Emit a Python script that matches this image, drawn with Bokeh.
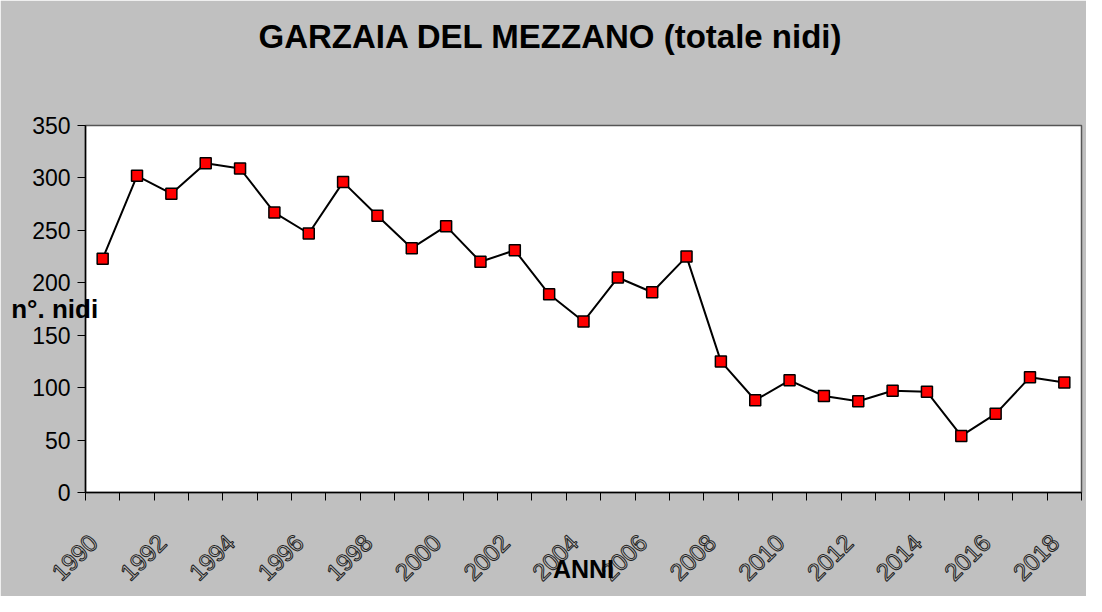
from bokeh.plotting import figure
from bokeh.models import Range1d, FixedTicker, Title, LinearAxis
from bokeh.embed import file_html
from bokeh.resources import INLINE

years = list(range(1990, 2019))
nests = [223, 302, 285, 314, 309, 267, 247, 296, 264, 233, 254, 220, 231, 189, 163,
         205, 191, 225, 125, 88, 107, 92, 87, 97, 96, 54, 75, 110, 105]
label_years = [y for y in years if y % 2 == 0]
y_ticks = [0, 50, 100, 150, 200, 250, 300, 350]
title_text = "GARZAIA DEL MEZZANO (totale nidi)"
y_title = "n°. nidi"
x_title = "ANNI"

FONT = "Liberation Sans"
BG = "#c0c0c0"

p = figure(width=1086, height=596, output_backend="svg", toolbar_location=None,
           x_range=Range1d(years[0] - 0.5, years[-1] + 0.5), y_range=Range1d(0, 350),
           min_border_left=85, min_border_right=5, min_border_top=125, min_border_bottom=104)
p.border_fill_color = BG
p.background_fill_color = "white"
p.outline_line_color = "#555555"
p.outline_line_width = 1.5
p.xgrid.grid_line_color = None
p.ygrid.grid_line_color = None

# invisible spacer axis above the frame, then the title beyond it
spacer = LinearAxis(ticker=FixedTicker(ticks=[years[0]]), axis_line_color=None,
                    major_tick_line_color=None, minor_tick_line_color=None,
                    major_tick_out=71, major_tick_in=0, minor_tick_out=0, minor_tick_in=0,
                    major_label_standoff=0, major_label_text_font_size="1px",
                    major_label_overrides={years[0]: ""})
p.add_layout(spacer, "above")
p.add_layout(Title(text=title_text, text_font=FONT, text_font_size="33px", text_font_style="bold",
                   align="left", offset=173, vertical_align="bottom", standoff=0,
                   text_color="black"), "above")

# category boundaries as (minor) tick marks; labels at the left part of each even year
label_pos = [y - 0.27 for y in label_years]
bounds = [y - 0.5 for y in years] + [years[-1] + 0.5]
xa = p.below[0]
xa.ticker = FixedTicker(ticks=label_pos, minor_ticks=bounds)
xa.major_label_overrides = {y - 0.27: str(y) for y in label_years}
xa.major_label_orientation = 0.785398
xa.major_label_standoff = 38
xa.major_label_text_font = FONT
xa.major_label_text_font_size = "24px"
xa.major_label_text_color = BG
xa.major_label_text_outline_color = "#222222"
xa.major_tick_line_color = None
xa.major_tick_out = 8
xa.major_tick_in = 0
xa.minor_tick_out = 8
xa.minor_tick_in = 0
xa.minor_tick_line_color = "black"
xa.axis_line_color = "black"
xa.axis_line_width = 1.5
xa.axis_label = x_title
xa.axis_label_text_font = FONT
xa.axis_label_text_font_size = "25px"
xa.axis_label_text_font_style = "bold"
xa.axis_label_text_color = "black"
xa.axis_label_standoff = -36

ya = p.left[0]
ya.ticker = FixedTicker(ticks=y_ticks)
ya.minor_tick_line_color = None
ya.major_tick_out = 8
ya.major_tick_in = 0
ya.major_label_standoff = 7
ya.major_label_text_font = FONT
ya.major_label_text_font_size = "23px"
ya.major_label_text_color = "black"
ya.axis_line_color = "black"
ya.axis_line_width = 1.5
ya.axis_label = y_title
ya.axis_label_orientation = "horizontal"
ya.axis_label_text_font = FONT
ya.axis_label_text_font_size = "26px"
ya.axis_label_text_font_style = "bold"
ya.axis_label_text_color = "black"
ya.axis_label_standoff = -69

p.line(years, nests, line_color="black", line_width=2)
p.scatter(years, nests, marker="square", size=11, fill_color="#ff0000",
          line_color="black", line_width=1.5)

open("out.html", "w").write(file_html(p, INLINE))
